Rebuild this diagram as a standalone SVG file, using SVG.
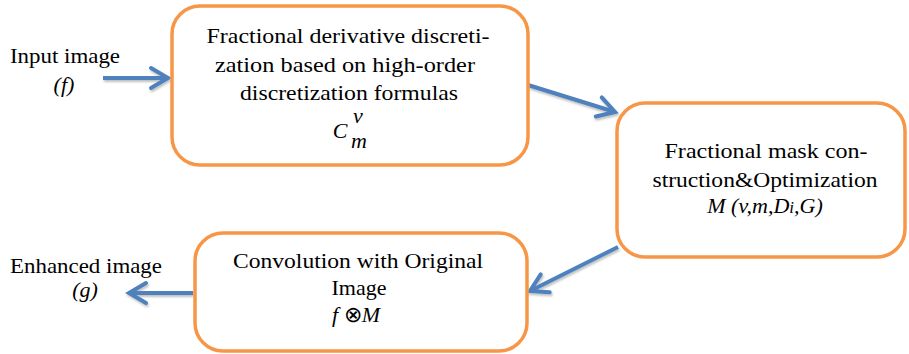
<svg xmlns="http://www.w3.org/2000/svg" width="909" height="354" viewBox="0 0 909 354">
<defs>
<style>
.box{fill:#fff;stroke:#F79646;stroke-width:3.5}
.t{font-family:"Liberation Serif","Times New Roman",serif;font-size:22px;fill:#000;text-anchor:middle}
.i{font-style:italic}
.s{text-anchor:start}
.arr{fill:none;stroke:#4F81BD;stroke-width:4}
</style>
<filter id="sh" filterUnits="userSpaceOnUse" x="0" y="0" width="909" height="354">
<feDropShadow dx="1" dy="2" stdDeviation="1.2" flood-color="#000" flood-opacity="0.25"/>
</filter>
<marker id="ah" markerUnits="userSpaceOnUse" markerWidth="30" markerHeight="30" viewBox="-20 -15 30 30" refX="0" refY="0" orient="auto">
<path d="M-17,-10 L0,0 L-17,10" fill="none" stroke="#4F81BD" stroke-width="4" stroke-linecap="round"/>
</marker>
</defs>
<g id="connectors" filter="url(#sh)">
<line class="arr" x1="103" y1="78" x2="168" y2="78" marker-end="url(#ah)"/>
<line class="arr" x1="528" y1="85" x2="615" y2="112" marker-end="url(#ah)"/>
<line class="arr" x1="618" y1="247" x2="530" y2="291" marker-end="url(#ah)"/>
<line class="arr" x1="193" y1="293" x2="129" y2="293" marker-end="url(#ah)"/>
</g>
<g id="input" font-family="Liberation Serif, serif">
<text class="t" x="65" y="63" textLength="110" lengthAdjust="spacingAndGlyphs">Input image</text>
<text class="t i" x="64" y="92">(f)</text>
</g>
<g id="output" font-family="Liberation Serif, serif">
<text class="t" x="86" y="273" textLength="152" lengthAdjust="spacingAndGlyphs">Enhanced image</text>
<text class="t i" x="85" y="297">(g)</text>
</g>
<g id="node1" font-family="Liberation Serif, serif">
<rect class="box" x="172" y="6" width="356" height="159" rx="28"/>
<text class="t" x="348" y="43" textLength="283" lengthAdjust="spacingAndGlyphs">Fractional derivative discreti-</text>
<text class="t" x="345" y="72" textLength="260" lengthAdjust="spacingAndGlyphs">zation based on high-order</text>
<text class="t" x="349" y="100" textLength="218" lengthAdjust="spacingAndGlyphs">discretization formulas</text>
<text class="t i" x="340" y="138">C</text>
<text class="t i s" x="353" y="123" font-size="10">v</text>
<text class="t i s" x="351" y="148" font-size="11">m</text>
</g>
<g id="node2" font-family="Liberation Serif, serif">
<rect class="box" x="617" y="103" width="288" height="154" rx="28"/>
<text class="t" x="766" y="158" textLength="203" lengthAdjust="spacingAndGlyphs">Fractional mask con-</text>
<text class="t" x="765" y="187" textLength="225" lengthAdjust="spacingAndGlyphs">struction&amp;Optimization</text>
<text class="t i" x="765" y="213">M (v,m,D<tspan font-size="17">i</tspan>,G)</text>
</g>
<g id="node3" font-family="Liberation Serif, serif">
<rect class="box" x="195" y="233" width="332" height="118" rx="28"/>
<text class="t" x="358" y="268" textLength="250" lengthAdjust="spacingAndGlyphs">Convolution with Original</text>
<text class="t" x="359" y="295">Image</text>
<text class="t" x="356" y="322"><tspan class="i">f</tspan> ⊗<tspan class="i">M</tspan></text>
</g>
</svg>
